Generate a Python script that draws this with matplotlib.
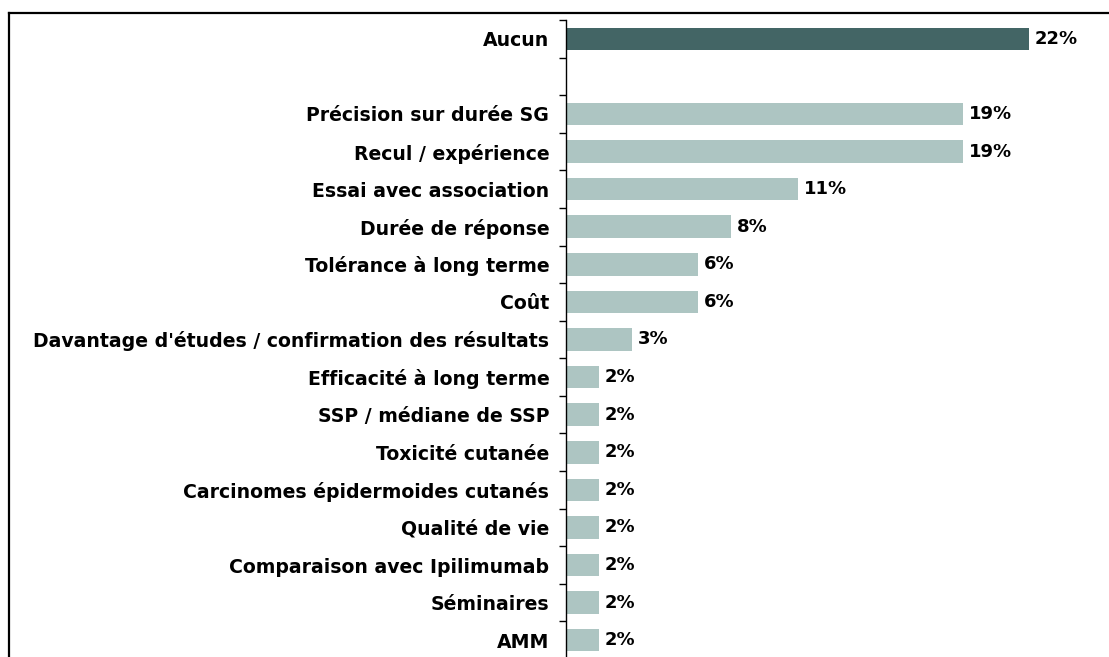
import matplotlib
matplotlib.use("Agg")
import matplotlib.pyplot as plt
from matplotlib.lines import Line2D

plt.rcParams['font.family'] = ['DejaVu Sans']

categories = ["Aucun", "",
              "Précision sur durée SG", "Recul / expérience", "Essai avec association",
              "Durée de réponse", "Tolérance à long terme", "Coût",
              "Davantage d'études / confirmation des résultats",
              "Efficacité à long terme", "SSP / médiane de SSP", "Toxicité cutanée",
              "Carcinomes épidermoides cutanés", "Qualité de vie",
              "Comparaison avec Ipilimumab", "Séminaires", "AMM"]
# shares in %, None for the spacer row
values = [21.875, None,
          18.75, 18.75, 10.9375, 7.8125, 6.25, 6.25, 3.125,
          1.5625, 1.5625, 1.5625, 1.5625, 1.5625, 1.5625, 1.5625, 1.5625]

dark = "#436565"
light = "#adc5c2"

fig = plt.figure(figsize=(11.09, 6.57), dpi=100)
ax = fig.add_axes([566 / 1109, -2 / 657, (1100 - 566) / 1109, 639 / 657])

pos = list(range(len(categories)))
for i, v in zip(pos, values):
    if v is None:
        continue
    ax.barh(i, v, height=0.6, color=dark if i == 0 else light, edgecolor='none')
    ax.text(v + 0.28, i, f"{v:.0f}%", va='center', ha='left',
            fontsize=13, fontweight='bold')

ax.set_ylim(len(categories) - 0.5, -0.5)
ax.set_xlim(0, 534 / 21.17)

ax.set_yticks(pos)
ax.set_yticklabels(categories, fontsize=13.6, fontweight='bold')
ax.set_yticks([p - 0.5 for p in pos] + [len(pos) - 0.5], minor=True)
ax.tick_params(axis='y', which='major', length=0, pad=12)
ax.tick_params(axis='y', which='minor', length=5, width=1, direction='out')
ax.set_xticks([])
for s in ['top', 'right', 'bottom']:
    ax.spines[s].set_visible(False)
ax.spines['left'].set_linewidth(1)

# frame around the chart (top and left edges)
fig.add_artist(Line2D([9 / 1109, 1.0], [1 - 12.5 / 657] * 2,
                      transform=fig.transFigure, color='black', lw=1.6))
fig.add_artist(Line2D([9 / 1109] * 2, [0, 1 - 12.5 / 657],
                      transform=fig.transFigure, color='black', lw=1.6))

fig.savefig("out.png", dpi=100)
